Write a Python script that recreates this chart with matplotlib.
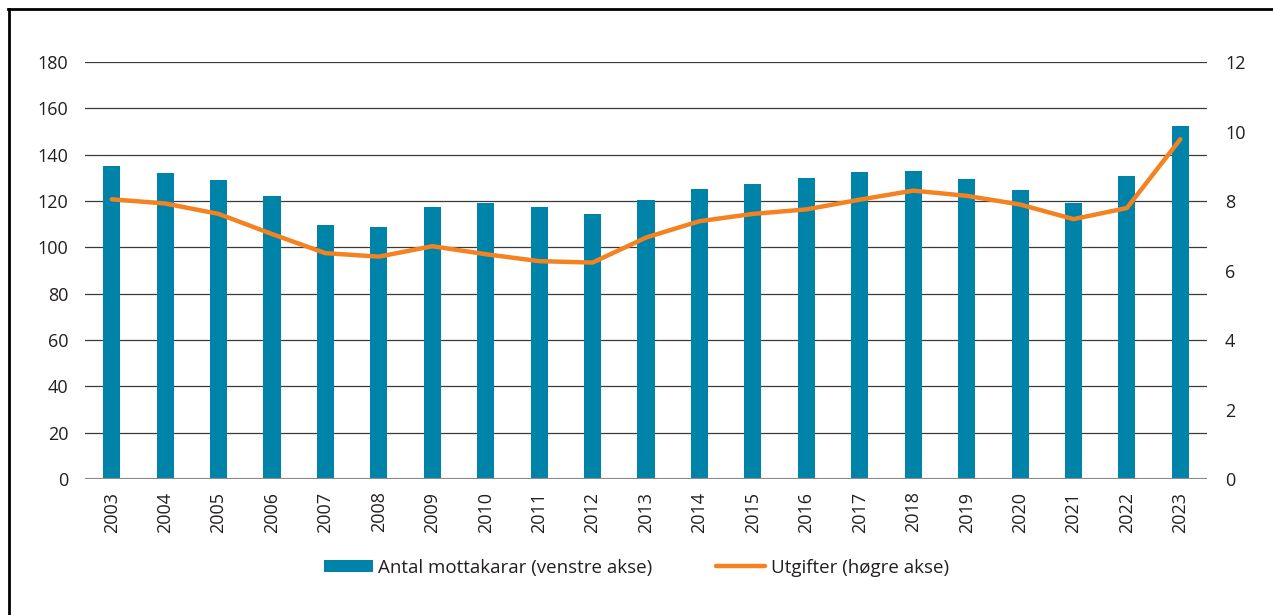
import matplotlib
matplotlib.use("Agg")
from matplotlib import pyplot as plt
from matplotlib.lines import Line2D

plt.rcParams['font.family'] = ['Open Sans', 'DejaVu Sans']

years = [str(y) for y in range(2003, 2024)]
mottakarar = [135, 132, 129, 122, 109.5, 109, 117.5, 119, 117.5, 114.5, 120.5,
              125, 127.3, 130, 132.5, 133, 129.5, 124.7, 119, 130.8, 152.3]
utgifter = [8.05, 7.93, 7.63, 7.05, 6.5, 6.4, 6.7, 6.47, 6.27, 6.23, 6.95,
            7.42, 7.63, 7.76, 8.04, 8.3, 8.15, 7.9, 7.48, 7.8, 9.78]

bar_color = '#0083a9'
line_color = '#f58220'

fig = plt.figure(figsize=(12.73, 6.15), dpi=100)
ax = fig.add_axes([0.0668, 0.2211, 0.8814, 0.678])
ax2 = ax.twinx()

x = list(range(len(years)))
bars = ax.bar(x, mottakarar, width=0.32, color=bar_color, zorder=2,
              label='Antal mottakarar (venstre akse)')
ax2.plot(x, utgifter, color=line_color, lw=3.2, solid_capstyle='round',
         solid_joinstyle='round', label='Utgifter (høgre akse)')

ax.set_xlim(-0.5, len(years) - 0.5)
ax.set_ylim(0, 180)
ax.set_yticks(range(0, 181, 20))
ax2.set_ylim(0, 12)
ax2.set_yticks(range(0, 13, 2))
ax.set_xticks(x)
ax.set_xticklabels(years, rotation=90)

for v in range(20, 181, 20):
    ax.axhline(v, color='#3a3a3a', lw=0.9, zorder=1)
ax.axhline(0, color='#8c8c8c', lw=1.6, zorder=3)

for a in (ax, ax2):
    for s in a.spines.values():
        s.set_visible(False)
ax.tick_params(axis='both', length=0, labelsize=13, colors='#231f20')
ax.tick_params(axis='y', pad=12)
ax.tick_params(axis='x', pad=9)
ax2.tick_params(axis='y', length=0, labelsize=13, colors='#231f20', pad=13)

handles = [bars, Line2D([0], [0], color=line_color, lw=3.2, solid_capstyle='round')]
labels = ['Antal mottakarar (venstre akse)', 'Utgifter (høgre akse)']
fig.legend(handles, labels, loc='center', bbox_to_anchor=(0.5, 0.077), ncol=2,
           frameon=False, fontsize=13.5, handlelength=2.6, handleheight=0.65,
           handletextpad=0.3, columnspacing=3.4, labelcolor='#231f20')

# ramme øvst og til venstre
fig.add_artist(Line2D([9 / 1273, 9 / 1273], [0, 1 - 9 / 615], color='black',
                      lw=2, transform=fig.transFigure))
fig.add_artist(Line2D([8 / 1273, 1], [1 - 9 / 615, 1 - 9 / 615], color='black',
                      lw=2, transform=fig.transFigure))

fig.savefig('out.png', dpi=100)
